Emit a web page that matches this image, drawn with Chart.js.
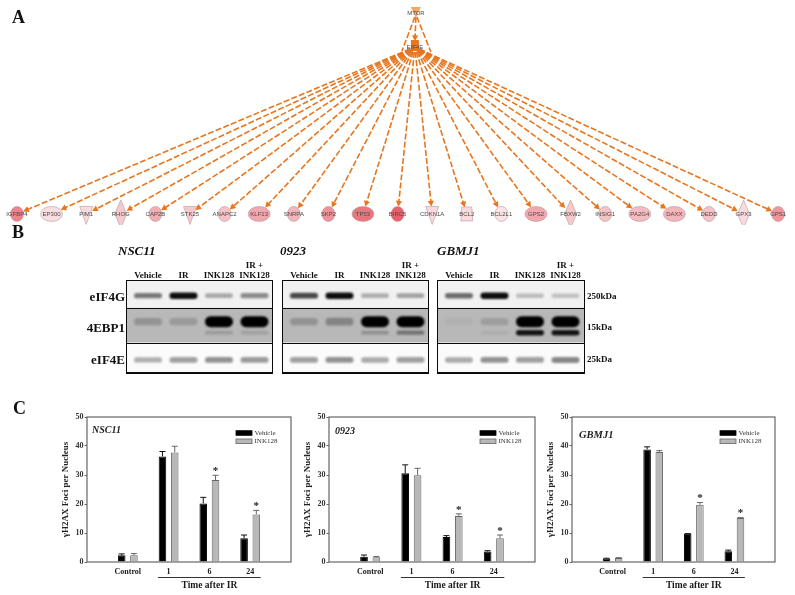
<!DOCTYPE html>
<html>
<head>
<meta charset="utf-8">
<script src="https://cdn.jsdelivr.net/npm/chart.js@4"></script>
<style>
  html, body { margin: 0; padding: 0; background: #fff; }
  #page { position: relative; width: 795px; height: 595px; overflow: hidden; font-family: "Liberation Serif", serif; filter: blur(0.45px); }
  #page canvas { position: absolute; }
  .txt { position: absolute; white-space: nowrap; color: #111; font-weight: bold; line-height: 1; }
</style>
</head>
<body>
<div id="page"></div>
<script>
// --- panel A: network ---
const genes = ["IGFBP4","EP300","PIM1","RHOG","CAP2B","STK25","ANAPC2","KLF13","SNRPA","SKP2","TP53","BIRC5","CDKN1A","BCL2","BCL2L1","GPS2","FBXW2","INSIG1","PA2G4","DAXX","DEDD","GPX3","GPS1"];
const geneExpr = [.75,.1,.12,.25,.45,.25,.3,.5,.4,.65,.85,1,.12,.12,.05,.5,.25,.3,.35,.4,.3,.12,.62];
const geneShapes = ["circle","ellipse","triangle","diamond","circle","triangle","circle","ellipse","circle","circle","ellipse","circle","triangle","rect","circle","ellipse","diamond","circle","ellipse","ellipse","circle","diamond","circle"];

// --- panel B: blots (band darkness 0-1 per lane) ---
const lanes = [["Vehicle"],["IR"],["INK128"],["IR +","INK128"]];
const blotRows = ["eIF4G","4EBP1","eIF4E"];
const blotSizes = ["250kDa","15kDa","25kDa"];
const nsc11Eif4g = [.5,.95,.3,.42];
const nsc11Ebp1 = [.2,.16,1,1];
const nsc11Ebp1Low = [0,0,.16,.13];
const nsc11Eif4e = [.3,.36,.42,.38];
const j0923Eif4g = [.7,.95,.28,.33];
const j0923Ebp1 = [.2,.28,1,1];
const j0923Ebp1Low = [0,0,.22,.38];
const j0923Eif4e = [.36,.42,.32,.36];
const gbmj1Eif4g = [.55,.95,.22,.2];
const gbmj1Ebp1 = [.04,.14,1,1];
const gbmj1Ebp1Low = [0,.06,.9,.9];
const gbmj1Eif4e = [.32,.42,.36,.46];

// --- panel C: foci bars ---
const timeLabels = ["","Control","1","6","24",""];
const starred = ["6","24"];
const nsc11Vehicle = [null,2.3,36.4,20.2,8.2,null];
const nsc11Ink = [null,2.3,37.8,28.3,16.4,null];
const nsc11VehicleErr = [0,.5,1.7,2.1,1.1,0];
const nsc11InkErr = [0,.6,2.1,1.6,1.4,0];
const j0923Vehicle = [null,1.8,30.6,8.6,3.6,null];
const j0923Ink = [null,1.6,29.9,15.9,8.2,null];
const j0923VehicleErr = [0,.6,2.9,.5,.3,0];
const j0923InkErr = [0,.3,2.4,.7,1.1,0];
const gbmj1Vehicle = [null,1.2,38.8,9.7,3.7,null];
const gbmj1Ink = [null,1.4,37.9,19.7,15.2,null];
const gbmj1VehicleErr = [0,.1,.9,.1,.4,0];
const gbmj1InkErr = [0,.1,.5,.8,.1,0];

const SERIF = '"Liberation Serif", serif';
const page = document.getElementById("page");
Chart.defaults.animation = false;
Chart.defaults.responsive = false;
Chart.defaults.plugins.legend.display = false;
Chart.defaults.plugins.tooltip.enabled = false;

function addCanvas(left, top, w, h) {
  const c = document.createElement("canvas");
  c.width = w; c.height = h;
  c.style.left = left + "px"; c.style.top = top + "px";
  c.style.width = w + "px"; c.style.height = h + "px";
  page.appendChild(c);
  return c;
}

function addText(str, x, y, size, opts = {}) {
  const d = document.createElement("div");
  d.className = "txt";
  d.textContent = str;
  d.style.fontSize = size + "px";
  d.style.top = (y - size / 2) + "px";
  if (opts.align === "right") d.style.right = (795 - x) + "px";
  else if (opts.align === "center") { d.style.left = x + "px"; d.style.transform = "translateX(-50%)"; }
  else d.style.left = x + "px";
  if (opts.italic) d.style.fontStyle = "italic";
  page.appendChild(d);
}

addText("A", 12, 17, 18);
addText("B", 12, 232, 18);
addText("C", 13, 408, 18);

// ---------- panel A ----------
function exprColor(v) {
  const lo = [251,236,238], hi = [232,96,107];
  const m = lo.map((c, i) => Math.round(c + (hi[i] - c) * v));
  return `rgb(${m[0]},${m[1]},${m[2]})`;
}

const shapeSize = { circle: [6.5,7.5], ellipse: [11,7.5], triangle: [6.5,7.5], diamond: [6,14], rect: [6,7] };

function nodePath(ctx, shape, x, y) {
  const [rx, ry] = shapeSize[shape];
  ctx.beginPath();
  if (shape === "circle" || shape === "ellipse") ctx.ellipse(x, y, rx, ry, 0, 0, Math.PI * 2);
  else if (shape === "triangle") { ctx.moveTo(x - rx, y - ry); ctx.lineTo(x + rx, y - ry); ctx.lineTo(x, y + ry + 3); ctx.closePath(); }
  else if (shape === "diamond") { ctx.moveTo(x, y - ry); ctx.lineTo(x + rx, y); ctx.lineTo(x, y + ry); ctx.lineTo(x - rx, y); ctx.closePath(); }
  else { ctx.moveTo(x - rx + 1, y - ry); ctx.lineTo(x + rx - 1, y - ry); ctx.lineTo(x + rx, y + ry); ctx.lineTo(x - rx, y + ry); ctx.closePath(); }
}

function arrow(ctx, x0, y0, x1, y1) {
  const a = Math.atan2(y1 - y0, x1 - x0);
  ctx.beginPath();
  ctx.setLineDash([6, 2.2]);
  ctx.moveTo(x0, y0);
  ctx.lineTo(x1 - 3 * Math.cos(a), y1 - 3 * Math.sin(a));
  ctx.stroke();
  ctx.setLineDash([]);
  ctx.beginPath();
  ctx.moveTo(x1, y1);
  ctx.lineTo(x1 - 6.5 * Math.cos(a - 0.5), y1 - 6.5 * Math.sin(a - 0.5));
  ctx.lineTo(x1 - 6.5 * Math.cos(a + 0.5), y1 - 6.5 * Math.sin(a + 0.5));
  ctx.closePath();
  ctx.fill();
}

const networkPlugin = {
  id: "network",
  afterDatasetsDraw(chart) {
    const { ctx } = chart;
    const targets = chart.getDatasetMeta(0).data;
    const [mtor, eif4e] = chart.getDatasetMeta(1).data;
    const orange = "#e8761f";
    ctx.save();
    ctx.strokeStyle = orange; ctx.fillStyle = orange; ctx.lineWidth = 1.6;

    // upstream edges
    ctx.setLineDash([6, 2.2]);
    ctx.beginPath(); ctx.moveTo(mtor.x - 1, mtor.y + 5); ctx.lineTo(eif4e.x - 13, eif4e.y + 4); ctx.stroke();
    ctx.beginPath(); ctx.moveTo(mtor.x + 1, mtor.y + 5); ctx.lineTo(eif4e.x + 16, eif4e.y + 5); ctx.stroke();
    ctx.setLineDash([]);
    arrow(ctx, mtor.x, mtor.y + 5, eif4e.x, eif4e.y - 6);

    targets.forEach((pt, i) => {
      const [rx, ry] = shapeSize[geneShapes[i]];
      const dx = eif4e.x - pt.x, dy = eif4e.y - pt.y;
      const k = 1 / Math.hypot(dx / rx, dy / ry);
      const len = Math.hypot(dx, dy);
      arrow(ctx, eif4e.x - dx / len * 5, eif4e.y - dy / len * 5, pt.x + dx * k, pt.y + dy * k);
    });

    // regulators
    ctx.fillStyle = "#f4a560";
    ctx.beginPath();
    ctx.moveTo(mtor.x - 5, mtor.y - 5); ctx.lineTo(mtor.x + 5, mtor.y - 5); ctx.lineTo(mtor.x, mtor.y + 6); ctx.closePath();
    ctx.fill();
    ctx.fillStyle = "#e8761f";
    ctx.fillRect(eif4e.x - 4, eif4e.y - 7, 8, 11);

    targets.forEach((pt, i) => {
      nodePath(ctx, geneShapes[i], pt.x, pt.y);
      ctx.fillStyle = exprColor(geneExpr[i]);
      ctx.fill();
      ctx.strokeStyle = "#b59a9d"; ctx.lineWidth = 0.6;
      ctx.stroke();
    });

    ctx.fillStyle = "#4a4a4a";
    ctx.font = '6px "Liberation Sans", sans-serif';
    ctx.textAlign = "center"; ctx.textBaseline = "middle";
    targets.forEach((pt, i) => ctx.fillText(genes[i], pt.x, pt.y));
    ctx.fillText("MTOR", mtor.x, mtor.y + 1);
    ctx.fillText("EIF4E", eif4e.x, eif4e.y);
    ctx.restore();
  },
};

new Chart(addCanvas(0, 0, 795, 225), {
  type: "scatter",
  data: {
    datasets: [
      { data: genes.map((g, i) => ({ x: i, y: 5.77 })), pointRadius: 0 },
      { data: [{ x: 11.53, y: 0 }, { x: 11.5, y: 1 }], pointRadius: 0 },
    ],
  },
  options: {
    scales: {
      x: { type: "linear", display: false, min: -0.491, max: 22.486 },
      y: { type: "linear", display: false, reverse: true, min: -0.343, max: 6.086 },
    },
  },
  plugins: [networkPlugin],
});

// ---------- panel B ----------
const rowEdges = [0, 0.89, 2, 3];
const blotBackgrounds = ["#f1f1f1", "#b8b8b8", "#fbfbfb"];

const blotPlugin = {
  id: "blot",
  beforeDatasetsDraw(chart) {
    const { ctx, chartArea: a, scales: { y } } = chart;
    ctx.save();
    blotBackgrounds.forEach((bg, r) => {
      const y0 = y.getPixelForValue(rowEdges[r]), y1 = y.getPixelForValue(rowEdges[r + 1]);
      ctx.fillStyle = bg;
      ctx.fillRect(a.left, y0, a.right - a.left, y1 - y0);
    });
    ctx.restore();
  },
  afterDatasetsDraw(chart) {
    const { ctx, chartArea: a, scales: { y } } = chart;
    ctx.save();
    ctx.beginPath(); ctx.rect(a.left, a.top, a.right - a.left, a.bottom - a.top); ctx.clip();
    chart.data.datasets.forEach((ds, d) => {
      chart.getDatasetMeta(d).data.forEach((pt, i) => {
        const dark = ds.data[i].d;
        if (!dark) return;
        const hh = ds.bandHalfHeight * (0.7 + dark * 0.5);
        ctx.filter = `blur(${ds.bandBlur}px)`;
        ctx.fillStyle = `rgba(0,0,0,${dark})`;
        ctx.beginPath();
        ctx.roundRect(pt.x - 14, pt.y - hh, 28, hh * 2, hh);
        ctx.fill();
      });
    });
    ctx.filter = "none";
    ctx.restore();
    ctx.save();
    ctx.strokeStyle = "#0a0a0a";
    ctx.lineWidth = 1;
    [1, 2].forEach((r) => {
      const py = Math.round(y.getPixelForValue(rowEdges[r])) + 0.5;
      ctx.beginPath(); ctx.moveTo(a.left, py); ctx.lineTo(a.right, py); ctx.stroke();
    });
    ctx.strokeRect(a.left + 0.5, a.top + 0.5, a.right - a.left - 1, a.bottom - a.top - 1);
    ctx.lineWidth = 2;
    ctx.beginPath(); ctx.moveTo(a.left, a.bottom - 1); ctx.lineTo(a.right, a.bottom - 1); ctx.stroke();
    ctx.restore();
  },
};

function bandPoints(values, rowPos) {
  return values.map((v, i) => ({ x: i, y: rowPos, d: v }));
}

function drawBlot(left, top, w, h, g, e, eLow, f) {
  const laneW = 35.5, firstLane = 22;
  const chart = new Chart(addCanvas(left, top, w, h), {
    type: "scatter",
    data: {
      datasets: [
        { data: bandPoints(g, 0.5), pointRadius: 0, bandHalfHeight: 2.8, bandBlur: 1 },
        { data: bandPoints(e, 1.33), pointRadius: 0, bandHalfHeight: 4.6, bandBlur: 1.3 },
        { data: bandPoints(eLow, 1.68), pointRadius: 0, bandHalfHeight: 2.4, bandBlur: 1 },
        { data: bandPoints(f, 2.55), pointRadius: 0, bandHalfHeight: 3.2, bandBlur: 1.2 },
      ],
    },
    options: {
      scales: {
        x: { type: "linear", display: false, min: -firstLane / laneW, max: (w - firstLane) / laneW },
        y: { type: "linear", display: false, reverse: true, min: 0, max: 3 },
      },
    },
    plugins: [blotPlugin],
  });
  lanes.forEach((label, i) => {
    const cx = left + chart.scales.x.getPixelForValue(i);
    label.forEach((line, k) => addText(line, cx, 275.5 - (label.length - 1 - k) * 10, 9, { align: "center" }));
  });
}

drawBlot(126, 280, 147, 94, nsc11Eif4g, nsc11Ebp1, nsc11Ebp1Low, nsc11Eif4e);
drawBlot(282, 280, 147, 94, j0923Eif4g, j0923Ebp1, j0923Ebp1Low, j0923Eif4e);
drawBlot(437, 280, 148, 94, gbmj1Eif4g, gbmj1Ebp1, gbmj1Ebp1Low, gbmj1Eif4e);

addText("NSC11", 118, 250, 13, { italic: true });
addText("0923", 280, 250, 13, { italic: true });
addText("GBMJ1", 437, 250, 13, { italic: true });
const blotRowY = [296.5, 327, 359];
blotRows.forEach((r, i) => addText(r, 125, blotRowY[i], 13, { align: "right" }));
blotSizes.forEach((s, i) => addText(s, 587, blotRowY[i], 9));

// ---------- panel C ----------
const focusPlugin = {
  id: "focus",
  afterDatasetsDraw(chart, args, opts) {
    const { ctx, chartArea: a, scales: { x, y } } = chart;
    ctx.save();
    // error bars, upper side only
    chart.data.datasets.forEach((ds, d) => {
      chart.getDatasetMeta(d).data.forEach((bar, i) => {
        if (ds.data[i] === null) return;
        const top = y.getPixelForValue(ds.data[i] + ds.errors[i]);
        ctx.strokeStyle = d === 0 ? "#111" : "#666";
        ctx.lineWidth = 1;
        ctx.beginPath();
        ctx.moveTo(bar.x, bar.y); ctx.lineTo(bar.x, top);
        ctx.moveTo(bar.x - 3, top); ctx.lineTo(bar.x + 3, top);
        ctx.stroke();
        if (d === 1 && starred.includes(timeLabels[i])) {
          ctx.fillStyle = "#222";
          ctx.font = `bold 11px ${SERIF}`;
          ctx.textAlign = "center"; ctx.textBaseline = "middle";
          ctx.fillText("*", bar.x, top - 4);
        }
      });
    });
    // frame
    ctx.strokeStyle = "#666"; ctx.lineWidth = 1.2;
    ctx.strokeRect(a.left, a.top, a.right - a.left, a.bottom - a.top);
    // name
    ctx.fillStyle = "#222";
    ctx.font = `italic bold ${opts.nameSize}px ${SERIF}`;
    ctx.textAlign = "left"; ctx.textBaseline = "middle";
    ctx.fillText(opts.name, a.left + opts.nameX, a.top + opts.nameY);
    // legend
    chart.data.datasets.forEach((ds, d) => {
      const ly = a.top + 16 + d * 8.3;
      const lx = a.right - 55;
      ctx.fillStyle = ds.backgroundColor;
      ctx.strokeStyle = ds.borderColor;
      ctx.lineWidth = 0.8;
      ctx.fillRect(lx, ly - 2.3, 16, 4.6);
      ctx.strokeRect(lx, ly - 2.3, 16, 4.6);
      ctx.fillStyle = "#333";
      ctx.font = `7px ${SERIF}`;
      ctx.fillText(ds.label, lx + 18.5, ly);
    });
    // time bracket
    const x0 = x.getPixelForTick(2) - 10.5, x1 = x.getPixelForTick(4) + 10.5;
    ctx.strokeStyle = "#333"; ctx.lineWidth = 1;
    ctx.beginPath(); ctx.moveTo(x0, a.bottom + 15.5); ctx.lineTo(x1, a.bottom + 15.5); ctx.stroke();
    ctx.fillStyle = "#1a1a1a";
    ctx.font = `bold 9.5px ${SERIF}`;
    ctx.textAlign = "center";
    ctx.fillText("Time after IR", (x0 + x1) / 2, a.bottom + 24);
    ctx.restore();
  },
};

function drawFoci(plotLeft, plotRight, name, nameX, nameY, nameSize, vehicle, ink, vehicleErr, inkErr) {
  const axisW = 27, top = 417, bottom = 562;
  const canvasLeft = plotLeft - axisW;
  new Chart(addCanvas(canvasLeft, 410, plotRight + 3 - canvasLeft, 185), {
    type: "bar",
    data: {
      labels: timeLabels,
      datasets: [
        { label: "Vehicle", data: vehicle, errors: vehicleErr, backgroundColor: "#000", borderColor: "#000", borderWidth: 1 },
        { label: "INK128", data: ink, errors: inkErr, backgroundColor: "#b8b8b8", borderColor: "#666", borderWidth: 1 },
      ],
    },
    options: {
      categoryPercentage: 0.6,
      barPercentage: 0.62,
      layout: { padding: { top: top - 410, right: 3, left: 0, bottom: 0 } },
      scales: {
        x: {
          offset: false,
          grid: { display: false, drawTicks: false },
          border: { display: false },
          ticks: { autoSkip: false, maxRotation: 0, padding: 5, color: "#1a1a1a", font: { family: SERIF, size: 8, weight: "bold" } },
          afterFit: (s) => { s.height = 595 - bottom; },
        },
        y: {
          min: 0, max: 50,
          grid: { drawOnChartArea: false, tickLength: 2.5, color: "#666" },
          border: { display: false },
          ticks: { stepSize: 10, padding: 1, color: "#333", font: { family: SERIF, size: 8, weight: "bold" } },
          title: { display: true, text: "γH2AX Foci per Nucleus", color: "#222", padding: 0, font: { family: SERIF, size: 9, weight: "bold" } },
          afterFit: (s) => { s.width = axisW; },
        },
      },
      plugins: { focus: { name, nameX, nameY, nameSize } },
    },
    plugins: [focusPlugin],
  });
}

drawFoci(87, 293, "NSC11", 5, 13, 10, nsc11Vehicle, nsc11Ink, nsc11VehicleErr, nsc11InkErr);
drawFoci(329, 537, "0923", 6, 14, 10, j0923Vehicle, j0923Ink, j0923VehicleErr, j0923InkErr);
drawFoci(572, 777, "GBMJ1", 7, 18, 10.5, gbmj1Vehicle, gbmj1Ink, gbmj1VehicleErr, gbmj1InkErr);
</script>
</body>
</html>
